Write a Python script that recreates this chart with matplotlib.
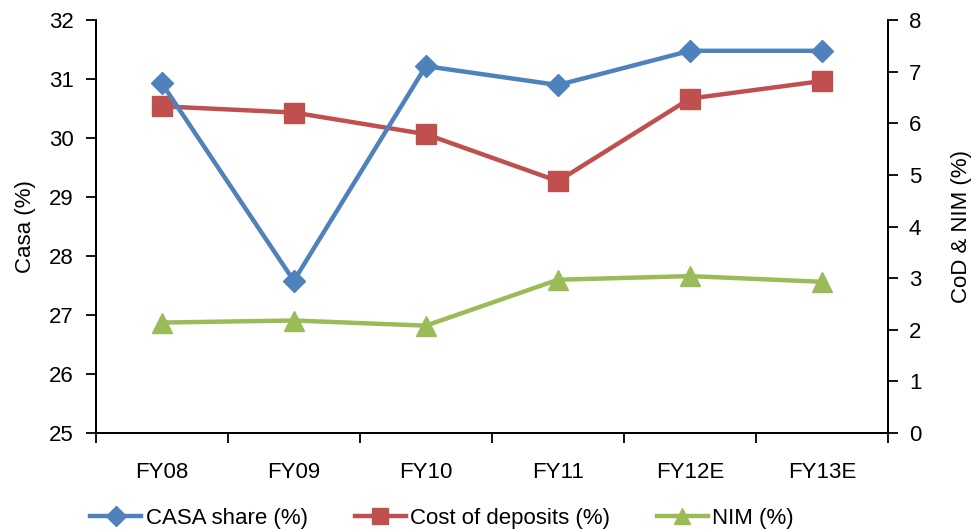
import matplotlib.pyplot as plt
from matplotlib.lines import Line2D

plt.rcParams['font.family'] = ['Liberation Sans', 'DejaVu Sans']

years = ["FY08", "FY09", "FY10", "FY11", "FY12E", "FY13E"]
casa_share = [30.93, 27.58, 31.22, 30.90, 31.48, 31.48]
cost_of_deposits = [6.33, 6.21, 5.79, 4.88, 6.48, 6.82]
nim = [2.14, 2.18, 2.08, 2.97, 3.04, 2.93]

blue = "#4F81BD"
red = "#C0504D"
green = "#9BBB59"

fig = plt.figure(figsize=(9.77, 5.30), dpi=100)
ax = fig.add_axes([0.098, 0.183, 0.811, 0.779])
ax2 = ax.twinx()

x = list(range(len(years)))
ax.plot(x, casa_share, color=blue, lw=3.2, marker="D", ms=11, zorder=3)
ax2.plot(x, cost_of_deposits, color=red, lw=3.2, marker="s", ms=14)
ax2.plot(x, nim, color=green, lw=3.2, marker="^", ms=14)
ax.set_zorder(ax2.get_zorder() + 1)
ax.patch.set_visible(False)

ax.set_xlim(-0.5, len(years) - 0.5)
ax.set_ylim(25, 32)
ax2.set_ylim(0, 8)
ax.set_yticks(range(25, 33))
ax2.set_yticks(range(0, 9))

# category ticks sit on the boundaries, labels in the middle
ax.set_xticks([i - 0.5 for i in range(len(years) + 1)])
ax.set_xticklabels([])
ax.set_xticks(x, minor=True)
ax.set_xticklabels(years, minor=True)
ax.tick_params(axis="x", which="minor", length=0, pad=21, labelsize=16)
ax.tick_params(axis="x", which="major", length=7, width=1.3, direction="out")
ax.tick_params(axis="y", length=7, width=1.3, direction="out", labelsize=16, pad=9)
ax2.tick_params(axis="y", length=7, width=1.3, direction="out", labelsize=16, pad=8)

for a in (ax, ax2):
    a.spines["top"].set_visible(False)
    for s in ("left", "right", "bottom"):
        a.spines[s].set_linewidth(1.3)

ax.set_ylabel("Casa (%)", fontsize=16, labelpad=9)
ax2.set_ylabel("CoD & NIM (%)", fontsize=16, labelpad=21, rotation=90)

handles = [
    Line2D([], [], color=blue, lw=3.2, marker="D", ms=10),
    Line2D([], [], color=red, lw=3.2, marker="s", ms=12),
    Line2D([], [], color=green, lw=3.2, marker="^", ms=12),
]
labels = ["CASA share (%)", "Cost of deposits (%)", "NIM (%)"]
fig.legend(handles, labels, loc="lower left", bbox_to_anchor=(0.072, -0.035), ncol=3,
           frameon=False, fontsize=16, handlelength=2.3, handletextpad=0.2, columnspacing=2.1)

fig.savefig("out.png", dpi=100)
